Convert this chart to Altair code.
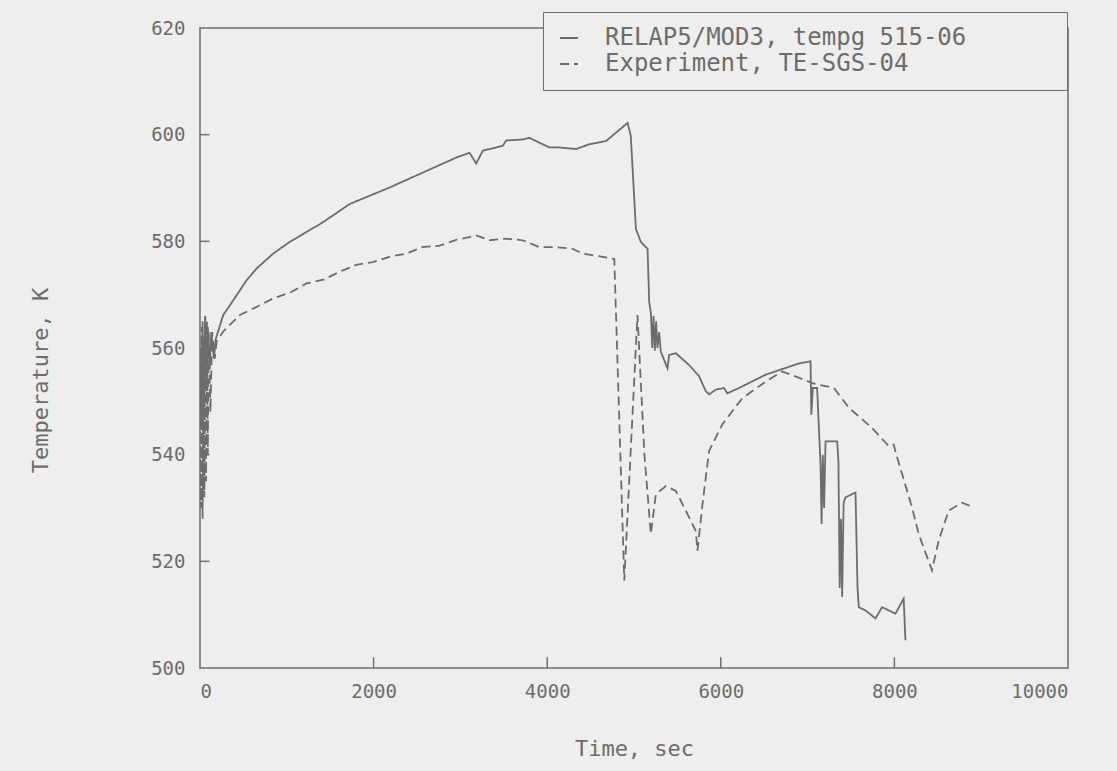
import altair as alt
import pandas as pd

# --- data ---
relap_label = "RELAP5/MOD3, tempg 515-06"
exp_label = "Experiment, TE-SGS-04"

relap_time = [0, 15, 30, 45, 60, 75, 90, 110, 130, 160, 180, 268, 345, 422, 537, 652, 843,
              1035, 1418,
              1725, 2185, 2568, 2952, 3105, 3182, 3259, 3488, 3527, 3718, 3795, 4025,
              4140, 4332, 4485, 4677, 4926, 4963, 5022, 5079, 5156, 5175, 5195, 5210,
              5225, 5240, 5255, 5270, 5290, 5309, 5386, 5405, 5482, 5635, 5750, 5827,
              5865, 5942, 6037, 6075, 6210, 6517, 6900, 7034, 7043, 7060, 7110, 7130,
              7149, 7161, 7175, 7190, 7207, 7341, 7355, 7370, 7385, 7398, 7415, 7437,
              7552, 7575, 7590, 7667, 7782, 7858, 8012, 8107, 8127]
relap_temp = [560, 545, 565, 548, 566, 552, 564, 556, 563, 558, 561.6, 566.2, 568.0, 569.9,
              572.7, 574.9, 577.7, 579.9,
              583.6, 587.0, 590.1, 592.9, 595.7, 596.6, 594.6, 597.0, 597.9, 598.9, 599.1,
              599.4, 597.6, 597.6, 597.3, 598.2, 598.8, 602.2, 599.8, 582.3, 579.9, 578.6,
              568.7, 566.5, 560, 566, 559.5, 565, 560, 563, 559.3, 556.2, 558.7, 559.0,
              556.8, 554.7, 551.9, 551.3, 552.2, 552.5, 551.5, 552.5, 555.0, 557.1, 557.5,
              547.5, 552.5, 552.5, 545, 538.2, 527.0, 540, 530, 542.5, 542.5, 538.8, 515,
              528, 513.3, 531, 532.0, 532.9, 515, 511.4, 510.8, 509.3, 511.4, 510.2,
              513.0, 505.2]

exp_time = [0, 10, 20, 30, 40, 50, 60, 70, 80, 90, 100, 120, 140, 170, 192, 268, 460, 652,
            843, 1040, 1227, 1420, 1610, 1800, 1993, 2200, 2377, 2560, 2760, 2960, 3182,
            3335, 3527, 3718, 3910, 4102, 4293, 4408,
            4773, 4888, 4960, 5040, 5120, 5194, 5252, 5367, 5482, 5597, 5712, 5731, 5789,
            5865, 6018, 6248, 6517, 6708, 7015, 7053, 7303, 7475, 7743, 7935, 7993, 8010,
            8203, 8280, 8433, 8510, 8625, 8778, 8873]
exp_temp = [560, 530, 564, 528, 562, 532, 566, 535, 565, 540, 563, 548, 563, 558, 561.2,
            563.1, 566.2, 567.7, 569.3, 570.4, 572.1, 572.8, 574.3, 575.6, 576.1, 577.2,
            577.7, 578.9, 579.2, 580.3, 581.1, 580.2, 580.5, 580.2,
            578.9, 578.9, 578.6, 577.7, 576.7, 516.4, 540, 566.2, 540, 525.1, 532.6, 534.1,
            533.2, 529.5, 525.7, 522.0, 530.7, 540.7, 545.7, 550.6, 553.7, 555.6, 553.7,
            553.4, 552.5, 548.8, 545.0, 541.6, 541.9, 540.7, 530.1, 525.1, 518.3, 523.9,
            529.5, 531.0, 530.4]

x_ticks = [0, 2000, 4000, 6000, 8000, 10000]
y_ticks = [500, 520, 540, 560, 580, 600, 620]
x_inner_ticks = [2000, 4000, 6000, 8000]
y_inner_ticks = [520, 540, 560, 580, 600]

GRAY = "#6c6c6c"
BG = "#eeeeee"
FONT = "DejaVu Sans Mono"

df = pd.concat([
    pd.DataFrame({"time": relap_time, "temp": relap_temp, "series": relap_label}),
    pd.DataFrame({"time": exp_time, "temp": exp_temp, "series": exp_label}),
], ignore_index=True)

x_scale = alt.Scale(domain=[0, 10000], nice=False, zero=False)
y_scale = alt.Scale(domain=[500, 620], nice=False, zero=False)

lines = alt.Chart(df).mark_line(strokeWidth=1.8, color=GRAY, clip=True).encode(
    x=alt.X("time:Q", scale=x_scale,
            axis=alt.Axis(values=x_ticks, format="d", title="Time, sec", titleY=80,
                          titleBaseline="middle", labelPadding=14)),
    y=alt.Y("temp:Q", scale=y_scale,
            axis=alt.Axis(values=y_ticks, format="d", title="Temperature, K", titleX=-160,
                          titleY=352, titleBaseline="middle", labelPadding=15)),
    strokeDash=alt.StrokeDash(
        "series:N",
        scale=alt.Scale(domain=[relap_label, exp_label], range=[[1, 0], [9, 5]]),
        legend=alt.Legend(
            title=None, orient="none", legendX=343, legendY=-16,
            labelExpr="datum.label + '\u00a0\u00a0\u00a0\u00a0\u00a0\u00a0\u200b'",
        ),
    ),
    order=alt.Order("time:Q"),
)

xt = alt.Chart(pd.DataFrame({"t": x_inner_ticks})).mark_rule(
    color=GRAY, strokeWidth=1.5).encode(
    x=alt.X("t:Q", scale=x_scale),
    y=alt.datum(500, scale=y_scale),
    y2=alt.datum(502),
)
yt = alt.Chart(pd.DataFrame({"v": y_inner_ticks})).mark_rule(
    color=GRAY, strokeWidth=1.5).encode(
    y=alt.Y("v:Q", scale=y_scale),
    x=alt.datum(0, scale=x_scale),
    x2=alt.datum(110),
)

chart = alt.layer(lines, xt, yt).properties(
    width=868, height=640,
    autosize=alt.AutoSizeParams(type="none"),
    padding={"left": 200, "top": 28, "right": 49, "bottom": 103},
    background=BG,
).configure_view(
    stroke=GRAY, strokeWidth=1.5, fill=BG,
).configure_axis(
    grid=False, domain=False, ticks=False,
    labelFont=FONT, labelFontSize=19, labelColor=GRAY,
    titleFont=FONT, titleFontSize=22, titleFontWeight="normal", titleColor=GRAY,
).configure_legend(
    labelFont=FONT, labelFontSize=24, labelColor=GRAY, labelOffset=24,
    symbolType="stroke", symbolStrokeColor=GRAY, symbolStrokeWidth=2,
    symbolSize=324, strokeColor=GRAY, fillColor=BG, padding=14, rowPadding=2,
    labelLimit=1000,
)

chart.save("out.html", embed_options={"renderer": "svg", "actions": False})
